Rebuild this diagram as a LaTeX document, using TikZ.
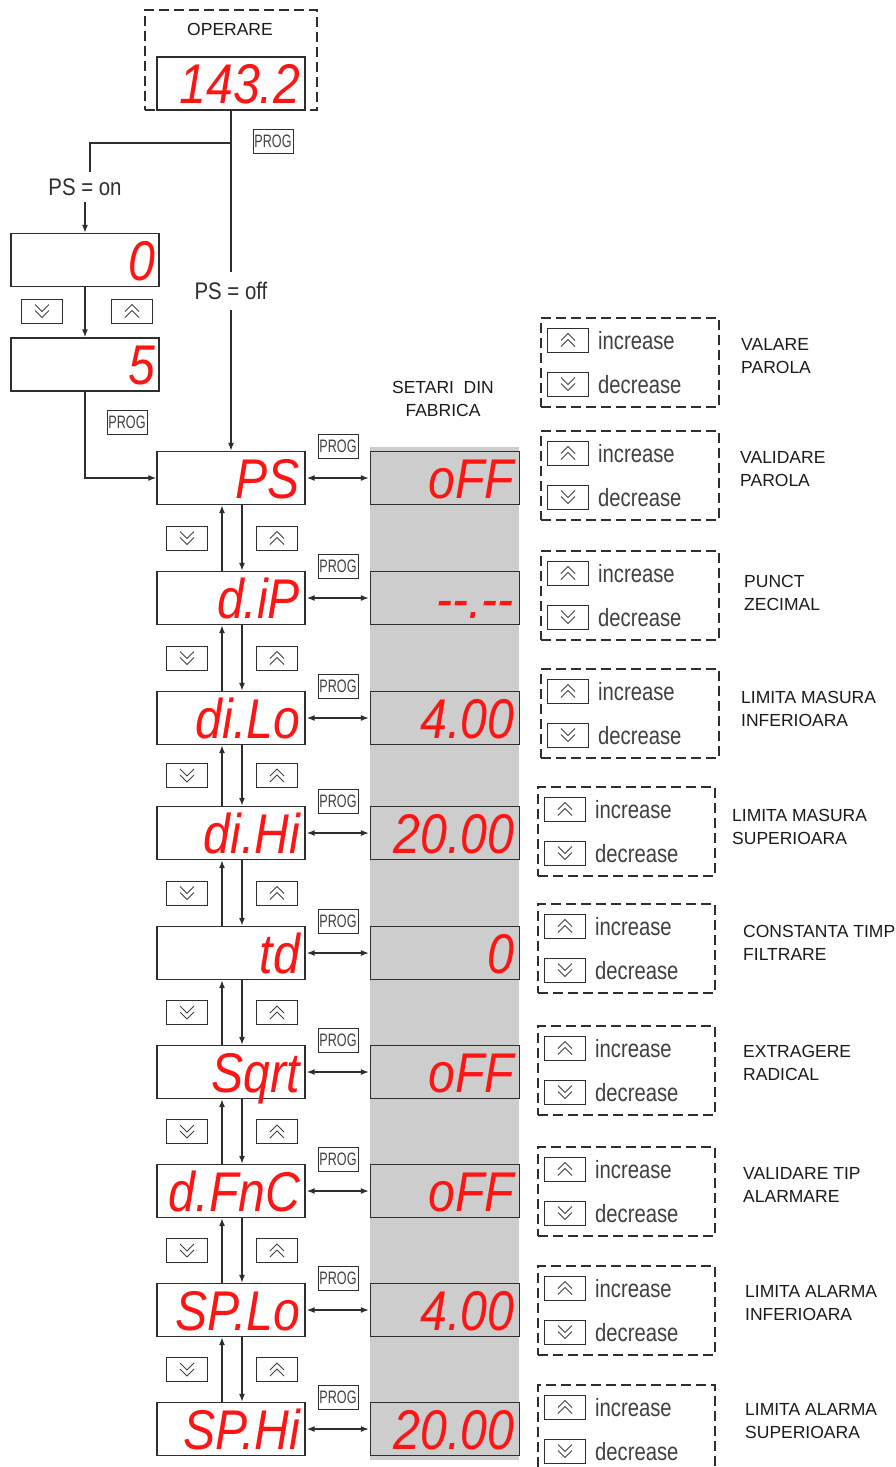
\documentclass[tikz,border=0pt]{standalone}
\usepackage{fontspec}
\usepackage{graphicx}
\setmainfont{Liberation Sans}
\newfontfamily\segfont{Liberation Sans}
\usetikzlibrary{arrows.meta,calc}
\definecolor{segred}{HTML}{FF1414}
\definecolor{colgray}{HTML}{CDCDCD}
\definecolor{ink}{HTML}{2E2E2E}
\definecolor{btntxt}{HTML}{404040}
\definecolor{desctxt}{HTML}{1A1A1A}
\newcommand\cnd[2][0.81]{\scalebox{#1}[1]{#2}}
\newcommand\seg[1]{\scalebox{0.86}[1]{#1}}

\begin{document}
\begin{tikzpicture}[
  x=1pt,y=-1pt,
  every node/.style={inner sep=0pt},
  frame/.style={draw=ink,line width=1.4pt},
  disp/.style={frame, minimum width=148pt, minimum height=53pt, text width=138pt, align=right,
    text height=40pt, text depth=0pt, font=\segfont\itshape\fontsize{56}{56}\selectfont, text=segred},
  val/.style={disp, fill=colgray, minimum width=149pt},
  prog/.style={frame, line width=1pt, minimum width=40pt, minimum height=24pt,
    font=\fontsize{18}{18}\selectfont, text=btntxt},
  btn/.style={frame, line width=1pt, minimum width=41pt, minimum height=24pt},
  dnbtn/.style={btn, path picture={\draw[btntxt,line width=1pt,shift={(path picture bounding box.center)}]
     (-7,-6.5) -- (0,0.5) -- (7,-6.5) (-7,-0.5) -- (0,6.5) -- (7,-0.5);}},
  upbtn/.style={btn, path picture={\draw[btntxt,line width=1pt,shift={(path picture bounding box.center)}]
     (-7,0.5) -- (0,-6.5) -- (7,0.5) (-7,6.5) -- (0,-0.5) -- (7,6.5);}},
  dbox/.style={draw=ink, line width=1.3pt, dash pattern=on 10pt off 5pt},
  inc/.style={anchor=west, font=\fontsize{25}{25}\selectfont, text=btntxt},
  desc/.style={anchor=west, align=left, font=\fontsize{17.5}{22.5}\selectfont, text=desctxt},
  cond/.style={font=\fontsize{24}{24}\selectfont, text=ink},
  conn/.style={draw=ink, line width=1.2pt},
  arr/.style={conn, -{Latex[length=8pt,width=6pt]}},
  dbl/.style={conn, {Latex[length=8pt,width=6pt]}-{Latex[length=8pt,width=6pt]}, shorten <=1pt, shorten >=1pt}
]
\useasboundingbox (0,0) rectangle (896,1467);

% factory settings column
\fill[colgray] (370,447) rectangle (519,1460);
\node[align=center, font=\fontsize{17.5}{22.5}\selectfont, text=desctxt] (fab) at (443,399) {SETARI~~DIN\\FABRICA};

% operation display
\node[dbox, minimum width=172pt, minimum height=100pt] (opbox) at (231,60) {};
\node[font=\fontsize{17.5}{17.5}\selectfont, text=desctxt] (opt) at (230,29) {OPERARE};
\node[disp] (op) at (231,83.5) {\seg{143.2}};
\node[prog] (p0) at (273,141) {\cnd[0.7]{PROG}};

\coordinate (br) at (231,143);
\coordinate (lc) at (90,143);
\node[cond, inner sep=6pt] (onl) at (85,187) {\cnd[0.85]{PS = on}};
\node[cond, inner sep=10pt] (offl) at (231,291) {\cnd[0.85]{PS = off}};

% password entry
\node[disp, text width=140pt] (B0) at (85,260) {\seg{0}};
\node[disp, text width=140pt] (B1) at (85,364.5) {\seg{5}};
\node[dnbtn] (b0d) at (42,311) {};
\node[upbtn] (b0u) at (132,311) {};
\node[prog] (pb) at (127,422) {\cnd[0.7]{PROG}};

% main parameter column
\coordinate (dnx) at (242,0);
\coordinate (upx) at (222,0);
\foreach \i/\cy/\lt/\vt in {1/478/PS/oFF, 2/598/d.iP/--.--, 3/718/di.Lo/4.00, 4/833/di.Hi/20.00,
   5/953/td/0, 6/1072/Sqrt/oFF, 7/1191/d.FnC/oFF, 8/1310/SP.Lo/4.00, 9/1429/SP.Hi/20.00}{
  \node[disp] (L\i) at (231,\cy) {\seg{\lt}};
  \node[val] (V\i) at (445,\cy) {\seg{\vt}};
  \node[prog] (P\i) at (338,{\cy-32}) {\cnd[0.7]{PROG}};
  \draw[dbl] (L\i.east) -- (V\i.west);
}
\foreach \i [evaluate=\i as \j using int(\i+1)] in {1,...,8}{
  \draw[arr] (L\i.south -| dnx) -- (L\j.north -| dnx);
  \draw[arr] (L\j.north -| upx) -- (L\i.south -| upx);
  \node[dnbtn] (D\i) at ($(L\i)!0.5!(L\j)+(-44,0)$) {};
  \node[upbtn] (U\i) at ($(L\i)!0.5!(L\j)+(46,0)$) {};
}

% connectors at the top
\draw[conn] (op.south) -- (offl.north);
\draw[arr] (offl.south) -- (L1.north);
\draw[conn] (br) -- (lc) -- (lc |- onl.north);
\draw[arr] (onl.south) -- (B0.north);
\draw[arr] (B0.south) -- (B1.north);
\draw[arr] (B1.south) |- (L1.west);

% increase / decrease frames
\foreach \k/\tp/\lx/\rx/\dx/\dy/\txt in {
   0/318/541/719/741/356/{VALARE\\PAROLA},
   1/431/541/719/740/469/{VALIDARE\\PAROLA},
   2/551/541/719/744/593/{PUNCT\\ZECIMAL},
   3/669/541/719/741/709/{LIMITA MASURA\\INFERIOARA},
   4/787/538/715/732/827/{LIMITA MASURA\\SUPERIOARA},
   5/904/538/715/743/943/{CONSTANTA TIMP\\FILTRARE},
   6/1026/538/715/743/1063/{EXTRAGERE\\RADICAL},
   7/1147/538/715/743/1185/{VALIDARE TIP\\ALARMARE},
   8/1266/538/715/745/1303/{LIMITA ALARMA\\INFERIOARA},
   9/1385/538/715/745/1421/{LIMITA ALARMA\\SUPERIOARA}}{
  \ifnum\k<9
    \node[dbox, minimum width={\rx-\lx}, minimum height=89pt] (F\k) at ({(\lx+\rx)/2},{\tp+44.5}) {};
  \else
    \draw[dbox] (\lx,1467) -- (\lx,\tp) -- (\rx,\tp) -- (\rx,1467);
  \fi
  \node[upbtn] (IU\k) at ({\lx+27},{\tp+22}) {};
  \node[inc] (IT\k) at ({\lx+57},{\tp+23}) {\cnd{increase}};
  \node[dnbtn] (ID\k) at ({\lx+27},{\tp+66}) {};
  \node[inc] (DT\k) at ({\lx+57},{\tp+67}) {\cnd{decrease}};
  \node[desc] (T\k) at (\dx,\dy) {\txt};
}
\end{tikzpicture}
\end{document}
